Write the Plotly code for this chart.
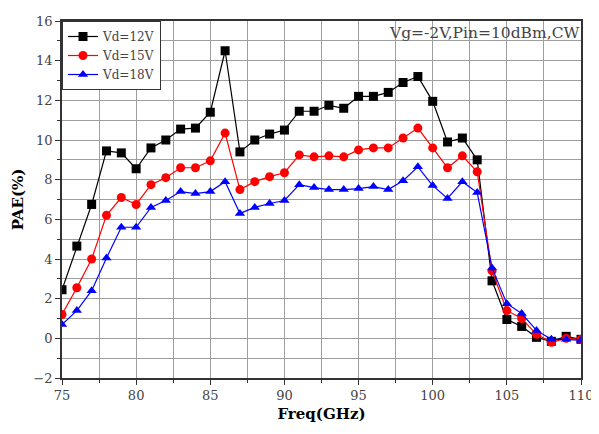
import plotly.graph_objects as go

freq = list(range(75, 111))
pae_12 = [2.45, 4.65, 6.75, 9.45, 9.35, 8.55, 9.6, 10.0, 10.55, 10.6, 11.4, 14.5,
          9.4, 10.0, 10.3, 10.5, 11.45, 11.45, 11.75, 11.6, 12.2, 12.2, 12.4, 12.9,
          13.2, 11.95, 9.9, 10.1, 9.0, 2.9, 0.95, 0.6, 0.05, -0.15, 0.1, -0.05]
pae_15 = [1.2, 2.55, 4.0, 6.2, 7.1, 6.75, 7.75, 8.1, 8.6, 8.6, 8.95, 10.35,
          7.5, 7.9, 8.15, 8.35, 9.25, 9.15, 9.2, 9.15, 9.5, 9.6, 9.6, 10.1,
          10.6, 9.6, 8.6, 9.2, 8.4, 3.4, 1.4, 1.0, 0.2, -0.2, 0.0, -0.05]
pae_18 = [0.7, 1.4, 2.4, 4.05, 5.6, 5.6, 6.6, 6.95, 7.4, 7.3, 7.4, 7.9,
          6.3, 6.6, 6.8, 6.95, 7.75, 7.6, 7.5, 7.5, 7.55, 7.65, 7.5, 7.95,
          8.65, 7.7, 7.05, 7.9, 7.35, 3.55, 1.75, 1.25, 0.4, -0.05, -0.05, -0.1]

series = [
    ("Vd=12V", pae_12, "black", "square"),
    ("Vd=15V", pae_15, "red", "circle"),
    ("Vd=18V", pae_18, "blue", "triangle-up"),
]

X_RANGE = [75, 110]
Y_RANGE = [-2, 16]

fig = go.Figure()
for name, ys, col, sym in series:
    fig.add_trace(go.Scatter(
        x=freq, y=ys, name=name, mode="lines+markers",
        line=dict(color=col, width=1.2),
        marker=dict(symbol=sym, size=9, color=col),
    ))

grid = "#9e9e9e"
font_family = "DejaVu Serif"
fig.update_layout(
    width=591, height=426,
    margin=dict(l=54, r=13, t=6, b=56),
    plot_bgcolor="white", paper_bgcolor="white",
    font=dict(family=font_family, size=13, color="#444"),
    showlegend=True,
    legend=dict(x=0, y=1, xanchor="left", yanchor="top",
                bordercolor="#333", borderwidth=1, bgcolor="white",
                font=dict(family=font_family, size=12, color="#444"),
                tracegroupgap=0, itemwidth=30),
    annotations=[dict(text="Vg=-2V,Pin=10dBm,CW", x=1, y=1, xref="paper", yref="paper",
                      xanchor="right", yanchor="top", showarrow=False, yshift=-1,
                      font=dict(family=font_family, size=15.5, color="#444"))],
)
fig.update_xaxes(
    range=X_RANGE, dtick=5, tick0=75,
    showgrid=True, gridcolor=grid, gridwidth=1,
    minor=dict(dtick=2.5, showgrid=True, gridcolor=grid, gridwidth=1,
               ticks="outside", ticklen=3, tickcolor="#333"),
    showline=True, linecolor="#333", linewidth=1.5, mirror=True,
    ticks="outside", ticklen=5, tickcolor="#333", zeroline=False,
    ticklabeloverflow="allow",
    title=dict(text="<b>Freq(GHz)</b>", font=dict(size=15, color="black"), standoff=6),
    tickfont=dict(size=13),
)
fig.update_yaxes(
    range=Y_RANGE, dtick=2, tick0=0,
    showgrid=True, gridcolor=grid, gridwidth=1,
    minor=dict(dtick=1, showgrid=True, gridcolor=grid, gridwidth=1,
               ticks="outside", ticklen=3, tickcolor="#333"),
    showline=True, linecolor="#333", linewidth=1.5, mirror=True,
    ticks="outside", ticklen=5, tickcolor="#333", zeroline=False,
    ticklabeloverflow="allow",
    title=dict(text="<b>PAE(%)</b>", font=dict(size=15, color="black"), standoff=6),
    tickfont=dict(size=13),
)

fig.write_html("out.html")
